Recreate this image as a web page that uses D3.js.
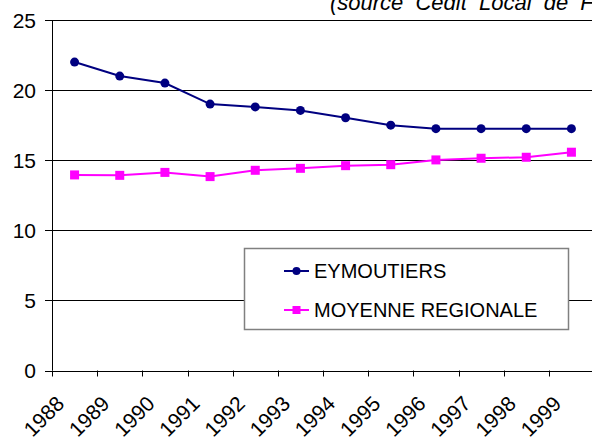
<!DOCTYPE html>
<html>
<head>
<meta charset="utf-8">
<script src="https://cdn.jsdelivr.net/npm/d3@7"></script>
<style>
  body { margin: 0; background: #fff; }
  svg { display: block; font-family: Arial, "Liberation Sans", sans-serif; }
</style>
</head>
<body>
<div id="chart"></div>
<script>
// data
var years = ["1988", "1989", "1990", "1991", "1992", "1993", "1994", "1995", "1996", "1997", "1998", "1999"];
var eymoutiers = [22, 21, 20.5, 19, 18.8, 18.55, 18.03, 17.5, 17.25, 17.25, 17.25, 17.25];
var moyenne = [13.95, 13.92, 14.13, 13.83, 14.28, 14.42, 14.61, 14.68, 15.02, 15.14, 15.21, 15.57];
var yTicks = [0, 5, 10, 15, 20, 25];

var W = 592, H = 440;
var plotL = 52, plotR = 594, plotT = 20, plotB = 370.5;

var svg = d3.select("#chart").append("svg")
    .attr("width", W).attr("height", H);

var x = d3.scaleBand().domain(years).range([plotL, plotR]);
var y = d3.scaleLinear().domain([0, 25]).range([plotB, plotT]);

// gridlines
svg.append("g")
    .selectAll("line")
    .data(yTicks)
    .enter().append("line")
    .attr("x1", plotL - 7).attr("x2", plotR)
    .attr("y1", function(d) { return Math.round(y(d)) + 0.5; })
    .attr("y2", function(d) { return Math.round(y(d)) + 0.5; })
    .attr("stroke", "#000").attr("stroke-width", 1);

// y labels
svg.append("g")
    .selectAll("text")
    .data(yTicks)
    .enter().append("text")
    .attr("x", 36)
    .attr("y", function(d) { return y(d); })
    .attr("dy", "0.36em")
    .attr("text-anchor", "end")
    .attr("font-size", 21)
    .text(function(d) { return d; });

// y axis line
svg.append("line")
    .attr("x1", plotL + 0.5).attr("x2", plotL + 0.5)
    .attr("y1", plotT).attr("y2", plotB)
    .attr("stroke", "#000");

// x ticks
var tickPos = years.map(function(d) { return x(d); });
svg.append("g")
    .selectAll("line")
    .data(tickPos)
    .enter().append("line")
    .attr("x1", function(d) { return Math.round(d) + 0.5; })
    .attr("x2", function(d) { return Math.round(d) + 0.5; })
    .attr("y1", plotB).attr("y2", plotB + 6)
    .attr("stroke", "#000");

// x labels
svg.append("g")
    .selectAll("text")
    .data(years)
    .enter().append("text")
    .attr("transform", function(d) {
      var cx = x(d) + x.bandwidth() / 2 - 9;
      return "translate(" + cx + ",405) rotate(-45)";
    })
    .attr("text-anchor", "end")
    .attr("font-size", 21)
    .text(function(d) { return d; });

// lines
var line = function(vals) {
  return d3.line()
    .x(function(d, i) { return x(years[i]) + x.bandwidth() / 2; })
    .y(function(d) { return y(d); })(vals);
};

svg.append("path")
    .attr("d", line(moyenne))
    .attr("fill", "none").attr("stroke", "#ff00ff").attr("stroke-width", 2);
svg.append("g")
    .selectAll("rect")
    .data(moyenne)
    .enter().append("rect")
    .attr("x", function(d, i) { return x(years[i]) + x.bandwidth() / 2 - 4.5; })
    .attr("y", function(d) { return y(d) - 4.5; })
    .attr("width", 9).attr("height", 9)
    .attr("fill", "#ff00ff");

svg.append("path")
    .attr("d", line(eymoutiers))
    .attr("fill", "none").attr("stroke", "#000080").attr("stroke-width", 2);
svg.append("g")
    .selectAll("circle")
    .data(eymoutiers)
    .enter().append("circle")
    .attr("cx", function(d, i) { return x(years[i]) + x.bandwidth() / 2; })
    .attr("cy", function(d) { return y(d); })
    .attr("r", 4.5)
    .attr("fill", "#000080");

// legend
var legend = svg.append("g");
legend.append("rect")
    .attr("x", 244.5).attr("y", 248.5)
    .attr("width", 324).attr("height", 81)
    .attr("fill", "#fff").attr("stroke", "#808080").attr("stroke-width", 1.5);

var items = [
  {name: "EYMOUTIERS", color: "#000080", shape: "circle", yy: 271},
  {name: "MOYENNE REGIONALE", color: "#ff00ff", shape: "square", yy: 310}
];
items.forEach(function(it) {
  legend.append("line")
      .attr("x1", 284).attr("x2", 309)
      .attr("y1", it.yy).attr("y2", it.yy)
      .attr("stroke", it.color).attr("stroke-width", 2);
  if (it.shape == "circle") {
    legend.append("circle").attr("cx", 296.5).attr("cy", it.yy).attr("r", 4).attr("fill", it.color);
  } else {
    legend.append("rect").attr("x", 292.5).attr("y", it.yy - 4).attr("width", 8).attr("height", 8).attr("fill", it.color);
  }
  legend.append("text")
      .attr("x", 314).attr("y", it.yy)
      .attr("dy", "0.36em")
      .attr("font-size", 20)
      .text(it.name);
});

// source note (runs off the top and right edges, as in the original)
svg.append("text")
    .attr("x", 330).attr("y", 9.5)
    .attr("font-size", 22)
    .attr("font-style", "italic")
    .attr("word-spacing", 6)
    .text("(source Cedit Local de France)");
</script>
</body>
</html>
